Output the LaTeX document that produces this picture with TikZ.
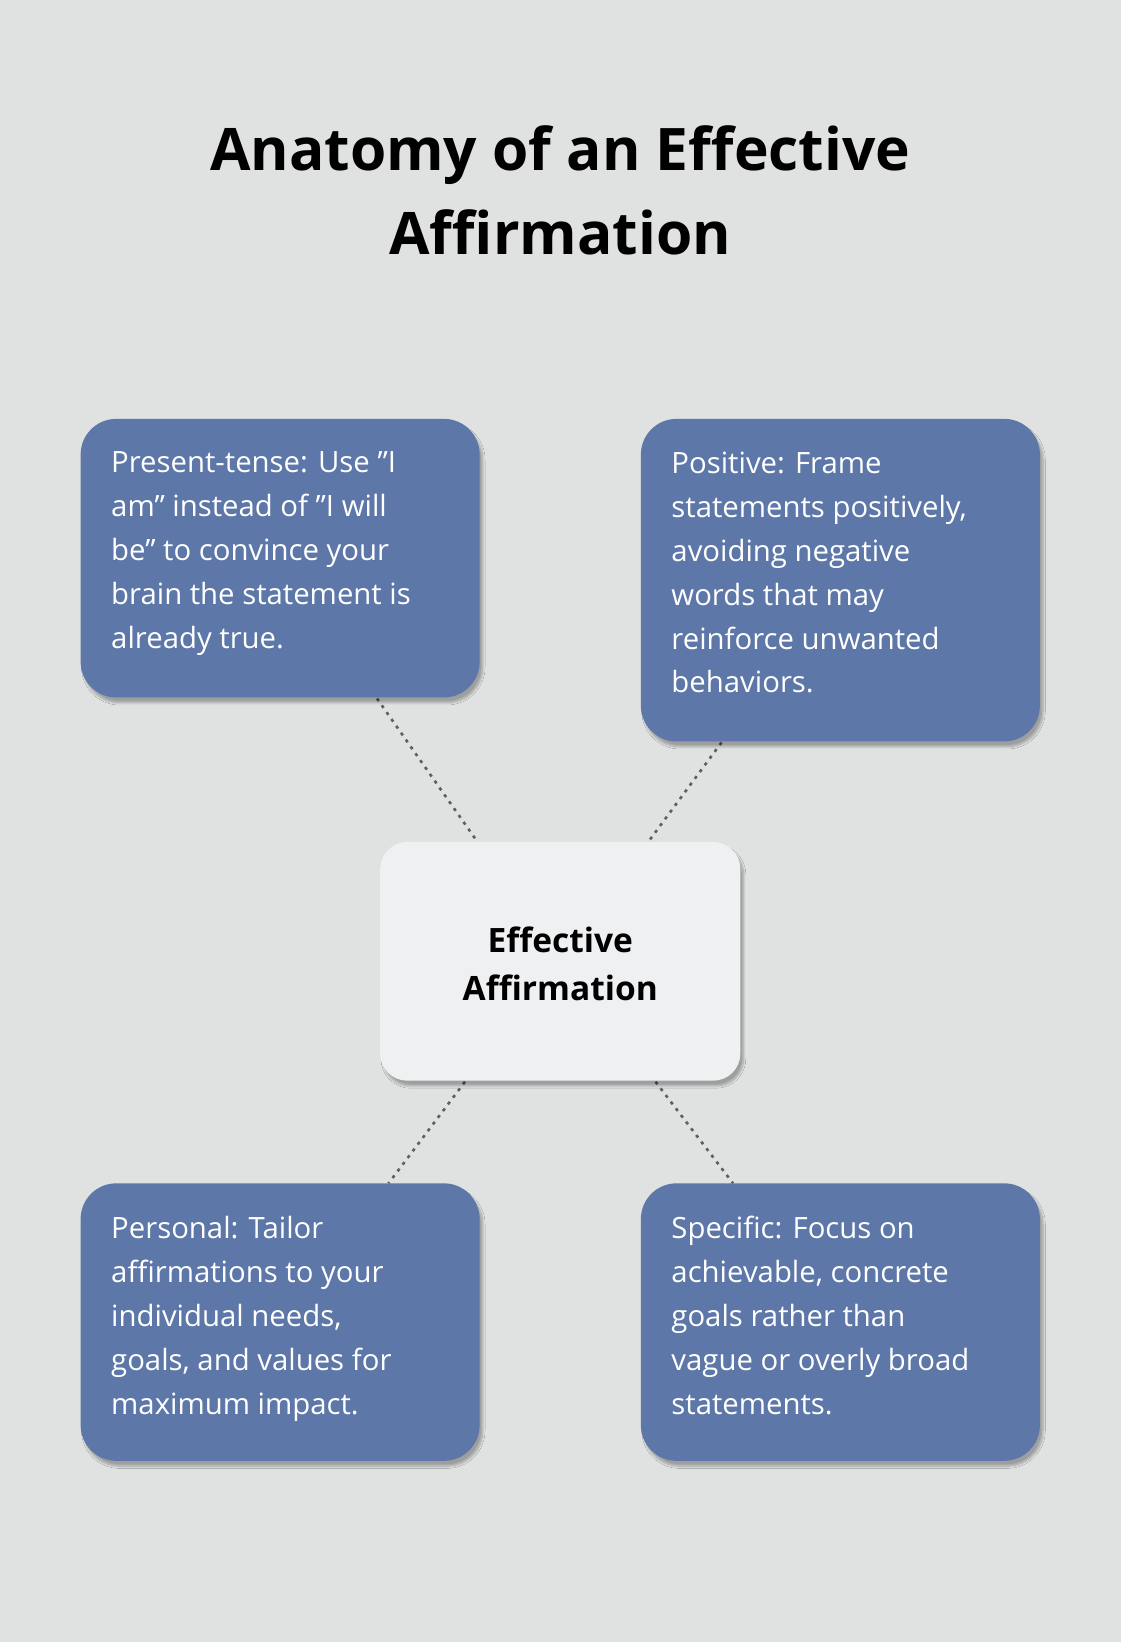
\documentclass[tikz,border=0pt]{standalone}
\usepackage{fontspec}
\setmainfont{Open Sans}
\usetikzlibrary{shadows.blur}
\definecolor{bg}{HTML}{E0E2E1}
\definecolor{boxc}{HTML}{5D77A8}
\definecolor{cen}{HTML}{EFF0F2}
\definecolor{dots}{HTML}{5F5F5F}
\tikzset{
 card/.style={draw=none,fill=boxc,rounded corners=34pt,blur shadow={shadow blur steps=8,shadow xshift=3pt,shadow yshift=-5pt,shadow opacity=30}},
 ctext/.style={anchor=north west,align=left,text=white,font=\fontsize{28}{42}\selectfont,inner sep=0pt},
 link/.style={draw=dots,line width=2.5pt,dash pattern=on 3pt off 5pt}
}
\begin{document}
\begin{tikzpicture}[x=1pt,y=-1pt]
\fill[bg] (0,0) rectangle (1070,1568);
\useasboundingbox (0,0) rectangle (1070,1568);
\node[font=\fontsize{56}{80}\selectfont\bfseries,align=center] (title) at (535,182) {Anatomy of an Effective\\Affirmation};
% connectors
\coordinate (a1) at (360,667); \coordinate (a2) at (456,804);
\coordinate (b1) at (689,709); \coordinate (b2) at (619,804);
\coordinate (c1) at (444,1033); \coordinate (c2) at (371,1130);
\coordinate (d1) at (626,1033); \coordinate (d2) at (700,1130);
\draw[link] (a1)--(a2); \draw[link] (b1)--(b2); \draw[link] (c1)--(c2); \draw[link] (d1)--(d2);
\path[card] (77,400) rectangle (458,666);
\path[card] (612,400) rectangle (993,708);
\path[card] (77,1130) rectangle (458,1395);
\path[card] (612,1130) rectangle (993,1395);
\path[card,fill=cen,rounded corners=26pt] (363,804) rectangle (707,1032);
\node[ctext] (t1) at (106,431) {Present-tense: Use "I\\am" instead of "I will\\be" to convince your\\brain the statement is\\already true.};
\node[ctext] (t2) at (641,431) {Positive: Frame\\statements positively,\\avoiding negative\\words that may\\reinforce unwanted\\behaviors.};
\node[ctext] (t3) at (106,1161) {Personal: Tailor\\affirmations to your\\individual needs,\\goals, and values for\\maximum impact.};
\node[ctext] (t4) at (641,1161) {Specific: Focus on\\achievable, concrete\\goals rather than\\vague or overly broad\\statements.};
\node[font=\fontsize{32}{46}\selectfont\bfseries,align=center] (center) at (535,920) {Effective\\Affirmation};
\end{tikzpicture}
\end{document}
